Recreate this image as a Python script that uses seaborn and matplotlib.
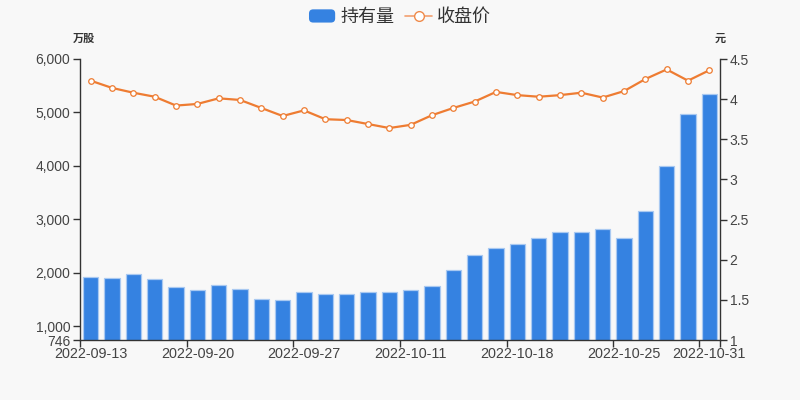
import matplotlib
matplotlib.use("Agg")
import matplotlib.pyplot as plt
import seaborn as sns
import pandas as pd
import numpy as np
from matplotlib.lines import Line2D
from matplotlib.patches import FancyBboxPatch, Patch
from matplotlib.legend_handler import HandlerBase
from matplotlib.ticker import FuncFormatter, FixedLocator

dates = ["2022-09-13", "2022-09-14", "2022-09-15", "2022-09-16",
         "2022-09-19", "2022-09-20", "2022-09-21", "2022-09-22", "2022-09-23",
         "2022-09-26", "2022-09-27", "2022-09-28", "2022-09-29", "2022-09-30",
         "2022-10-10", "2022-10-11", "2022-10-12", "2022-10-13", "2022-10-14",
         "2022-10-17", "2022-10-18", "2022-10-19", "2022-10-20", "2022-10-21",
         "2022-10-24", "2022-10-25", "2022-10-26", "2022-10-27", "2022-10-28",
         "2022-10-31"]
holdings = [1925, 1911, 1974, 1886, 1731, 1675, 1781, 1700, 1513, 1494,
            1638, 1612, 1600, 1643, 1646, 1675, 1750, 2049, 2330, 2466,
            2541, 2653, 2765, 2765, 2815, 2653, 3164, 4005, 4977, 5346]
close = [4.23, 4.14, 4.08, 4.03, 3.92, 3.94, 4.01, 3.99, 3.89, 3.79,
         3.86, 3.75, 3.74, 3.69, 3.64, 3.68, 3.80, 3.89, 3.97, 4.09,
         4.05, 4.03, 4.05, 4.08, 4.02, 4.10, 4.25, 4.37, 4.23, 4.36]
label_dates = ["2022-09-13", "2022-09-20", "2022-09-27", "2022-10-11",
               "2022-10-18", "2022-10-25", "2022-10-31"]
left_ticks = [746, 1000, 2000, 3000, 4000, 5000, 6000]
right_ticks = [1, 1.5, 2, 2.5, 3, 3.5, 4, 4.5]

BG = "#f8f8f8"
BLUE = "#3582e1"
ORANGE = "#ee7c32"
TXT = "#444444"

sns.set_theme(style="white")
plt.rcParams["font.family"] = ["Liberation Sans", "Noto Sans CJK SC", "DejaVu Sans"]

df = pd.DataFrame({"date": dates, "holdings": holdings, "close": close})
df["pos"] = np.arange(len(df))

fig = plt.figure(figsize=(8, 4), dpi=100, facecolor=BG)
ax = fig.add_axes([0.1, 0.15, 0.8, 0.7025])
ax.set_facecolor(BG)

sns.barplot(data=df, x="date", y="holdings", color=BLUE, width=0.72,
            edgecolor="#a9c9f1", linewidth=0.9, saturation=1, ax=ax)
for p in ax.patches:
    p.set_facecolor(BLUE)
ax.set_xlim(-0.5, len(dates) - 0.5)
ax.set_ylim(746, 6000)
ax.set_xlabel("")
ax.set_ylabel("")

ax2 = ax.twinx()
sns.lineplot(data=df, x="pos", y="close", color=ORANGE, linewidth=1.6,
             marker="o", markersize=4, markerfacecolor="white",
             markeredgecolor=ORANGE, markeredgewidth=0.9, ax=ax2)
ax2.set_ylim(1, 4.5)
ax2.set_xlim(-0.5, len(dates) - 0.5)
ax2.set_xlabel("")
ax2.set_ylabel("")

# x ticks: labels at bar centers, tick marks at boundaries
label_pos = [dates.index(d) for d in label_dates]
ax.xaxis.set_major_locator(FixedLocator(label_pos))
ax.set_xticklabels(label_dates)
bound = [p - 0.5 for p in label_pos] + [len(dates) - 0.5]
ax.xaxis.set_minor_locator(FixedLocator(bound))
ax.tick_params(axis="x", which="major", length=0, pad=5, labelsize=10.4, labelcolor=TXT)
ax.tick_params(axis="x", which="minor", length=5, width=1, color="#333333", direction="out", bottom=True)

ax.set_yticks(left_ticks)
ax.yaxis.set_major_formatter(FuncFormatter(lambda v, p: f"{int(v):,}"))
ax.tick_params(axis="y", length=5, width=1, color="#333333", left=True, direction="out",
               labelsize=10, labelcolor=TXT, pad=2)
ax2.set_yticks(right_ticks)
ax2.yaxis.set_major_formatter(FuncFormatter(lambda v, p: f"{v:g}"))
ax2.tick_params(axis="y", length=5, width=1, color="#333333", right=True, direction="out",
                labelsize=10, labelcolor=TXT, pad=2)

for a in (ax, ax2):
    a.spines["top"].set_visible(False)
    a.grid(False)
ax.spines["right"].set_visible(False)
ax2.spines["left"].set_visible(False)
ax2.spines["bottom"].set_visible(False)
ax.spines["left"].set_color("#333333")
ax.spines["bottom"].set_color("#333333")
ax2.spines["right"].set_color("#333333")
for s in (ax.spines["left"], ax.spines["bottom"], ax2.spines["right"]):
    s.set_linewidth(1)

fig.text(0.105, 0.905, "万股", ha="center", va="center", fontsize=8, fontweight="bold",
         color="#333333", family=["Noto Sans CJK SC", "DejaVu Sans"])
fig.text(0.9, 0.905, "元", ha="center", va="center", fontsize=8, fontweight="bold",
         color="#333333", family=["Noto Sans CJK SC", "DejaVu Sans"])


class RoundRectHandler(HandlerBase):
    def create_artists(self, legend, orig_handle, xdescent, ydescent, width, height, fontsize, trans):
        p = FancyBboxPatch((-xdescent, -ydescent), width, height,
                           boxstyle="round,pad=0,rounding_size=3",
                           facecolor=orig_handle.get_facecolor(), edgecolor="none",
                           transform=trans)
        return [p]


h_bar = Patch(facecolor=BLUE)
h_line = Line2D([], [], color="#f2a070", linewidth=1.2, marker="o", markersize=7,
                markerfacecolor="white", markeredgecolor="#ef8a4a", markeredgewidth=1)
leg = fig.legend([h_bar, h_line], ["持有量", "收盘价"], loc="upper center",
                 bbox_to_anchor=(0.5, 1.02), ncol=2, frameon=False,
                 handler_map={Patch: RoundRectHandler()},
                 prop={"family": ["Noto Sans CJK SC", "DejaVu Sans"], "size": 13},
                 handlelength=1.45, handleheight=0.75, handletextpad=0.3, columnspacing=0.6)
for t in leg.get_texts():
    t.set_color("#333333")

fig.savefig("out.png", dpi=100, facecolor=BG)
